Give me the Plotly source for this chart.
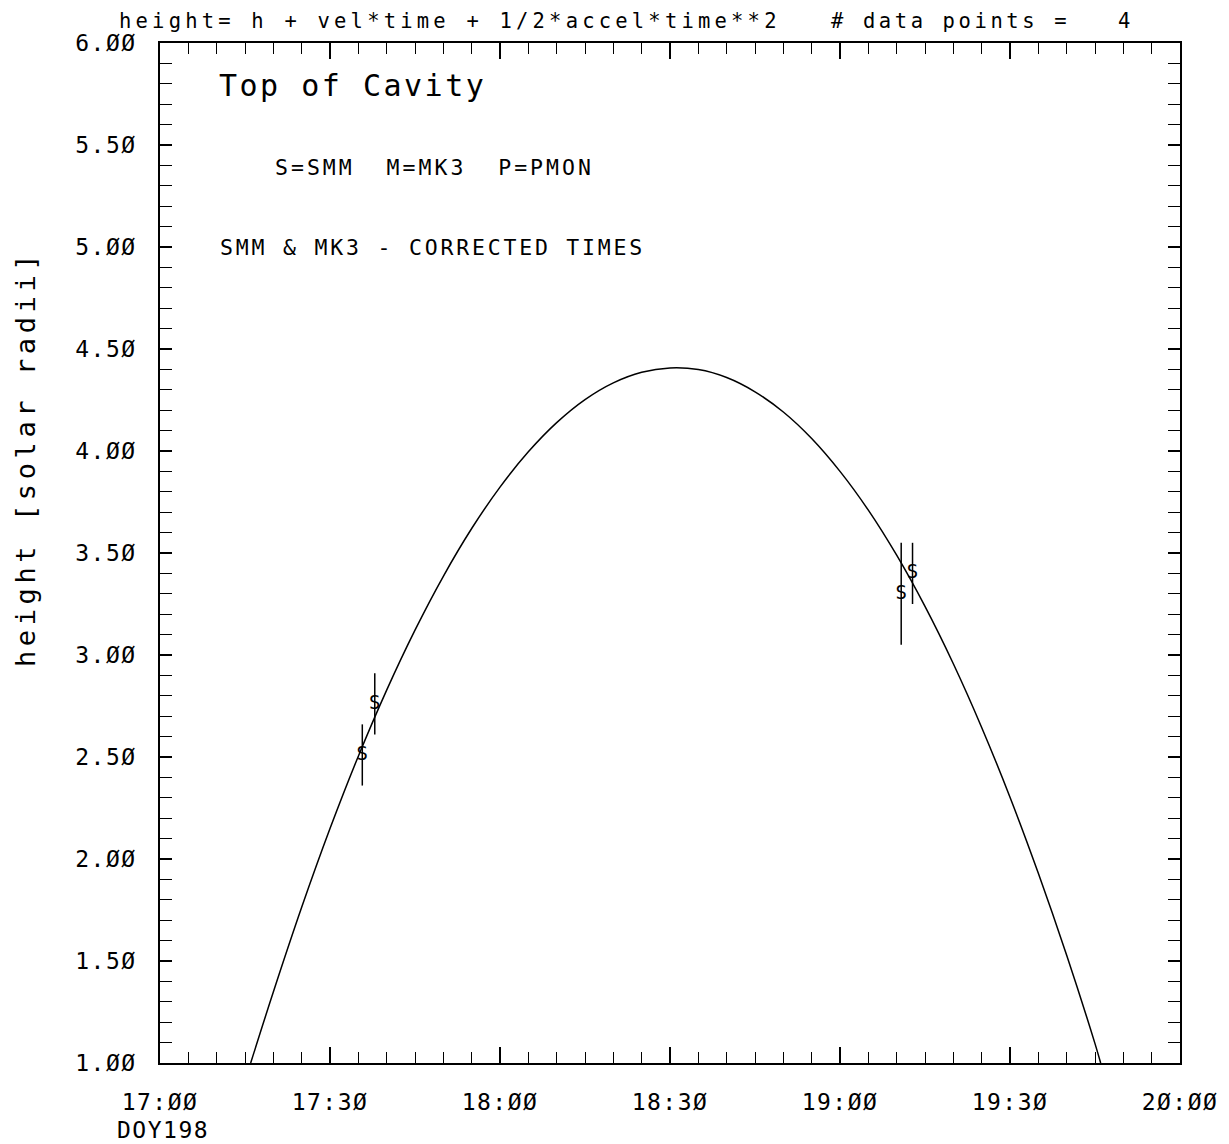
import plotly.graph_objects as go

# ---------------- data ----------------
obs_times = ["17:35:42", "17:37:54", "19:10:48", "19:12:48"]
obs_heights = [2.51, 2.76, 3.30, 3.40]
obs_errors = [0.15, 0.15, 0.25, 0.15]
obs_labels = ["S", "S", "S", "S"]

fit_times = ["17:16", "17:20", "17:25", "17:30", "17:35", "17:40", "17:45",
             "17:50", "17:55", "18:00", "18:05", "18:10", "18:15", "18:20",
             "18:25", "18:30", "18:35", "18:40", "18:45", "18:50", "18:55",
             "19:00", "19:05", "19:10", "19:15", "19:20", "19:25", "19:30",
             "19:35", "19:40", "19:45", "19:46"]
fit_heights = [1.00, 1.348, 1.763, 2.149, 2.504, 2.828, 3.122,
               3.386, 3.620, 3.823, 3.996, 4.139, 4.252, 4.334,
               4.386, 4.407, 4.399, 4.360, 4.290, 4.191, 4.061,
               3.900, 3.710, 3.489, 3.238, 2.957, 2.645, 2.303,
               1.930, 1.528, 1.095, 1.00]

x_tick_times = ["17:00", "17:30", "18:00", "18:30", "19:00", "19:30", "20:00"]
x_tick_text = ["17:ØØ", "17:3Ø", "18:ØØ", "18:3Ø", "19:ØØ", "19:3Ø", "2Ø:ØØ"]
y_tick_vals = [1.0, 1.5, 2.0, 2.5, 3.0, 3.5, 4.0, 4.5, 5.0, 5.5, 6.0]
y_tick_text = ["1.ØØ", "1.5Ø", "2.ØØ", "2.5Ø", "3.ØØ", "3.5Ø",
               "4.ØØ", "4.5Ø", "5.ØØ", "5.5Ø", "6.ØØ"]

title_left = "height= h + vel*time + 1/2*accel*time**2"
title_right = "# data points =   4"
label_top = "Top of Cavity"
label_key = "S=SMM  M=MK3  P=PMON"
label_note = "SMM &amp; MK3 - CORRECTED TIMES"
day_label = "DOY198"
y_title = "height [solar radii]"


def to_min(s):
    p = s.split(":")
    h, m = int(p[0]), int(p[1])
    sec = int(p[2]) if len(p) > 2 else 0
    return (h - 17) * 60 + m + sec / 60.0


def sp(text, ls):
    text = text.replace("  ", "\u00a0\u00a0")
    return f'<span style="letter-spacing:{ls}px">{text}</span>'


FONT = "DejaVu Sans Mono"
# page is drawn with an 8px body margin; place the plot frame at 160..1180 x 43..1063
OFF = 8
L, T, PW, PH = 160 - OFF, 43 - OFF, 1020, 1020
W, H = 1229 - OFF, 1144 - OFF


def px(xp):
    return (xp - 160) / PW


def py(yp):
    return (1063 - yp) / PH


fig = go.Figure()

fig.add_trace(go.Scatter(
    x=[to_min(t) for t in fit_times], y=fit_heights,
    mode="lines", line=dict(color="black", width=1.5, shape="spline"),
    hoverinfo="skip", showlegend=False))

fig.add_trace(go.Scatter(
    x=[to_min(t) for t in obs_times], y=obs_heights,
    mode="text", text=obs_labels, textposition="middle center",
    textfont=dict(family=FONT, size=19, color="black"),
    error_y=dict(type="data", array=obs_errors, visible=True,
                 color="black", thickness=1.5, width=0),
    showlegend=False))

axis_common = dict(showline=True, linecolor="black", linewidth=1.5,
                   mirror="ticks", ticks="inside", tickcolor="black",
                   showgrid=False, zeroline=False,
                   tickfont=dict(family=FONT, size=23, color="black"))

fig.update_xaxes(range=[0, 180], tickmode="array",
                 tickvals=[to_min(t) for t in x_tick_times],
                 ticktext=[sp(t, 1.5) for t in x_tick_text],
                 ticklen=16, tickwidth=1.5, ticklabelstandoff=18,
                 minor=dict(tick0=0, dtick=5, ticks="inside", ticklen=11,
                            tickwidth=1.2, tickcolor="black", showgrid=False),
                 **axis_common)
fig.update_yaxes(range=[1, 6], tickmode="array", tickvals=y_tick_vals,
                 ticktext=[sp(t, 1.5) for t in y_tick_text],
                 ticklen=12, tickwidth=1.5, ticklabelstandoff=17,
                 minor=dict(tick0=1, dtick=0.1, ticks="inside", ticklen=12,
                            tickwidth=1.2, tickcolor="black", showgrid=False),
                 **axis_common)

ann = []
ann.append(dict(text=sp(title_left, 4.2), xref="paper", yref="paper",
                x=px(117), y=py(21),
                xanchor="left", yanchor="middle", showarrow=False,
                font=dict(family=FONT, size=20.5, color="black")))
ann.append(dict(text=sp(title_right, 3.6), xref="paper", yref="paper",
                x=px(829), y=py(21),
                xanchor="left", yanchor="middle", showarrow=False,
                font=dict(family=FONT, size=20.5, color="black")))
ann.append(dict(text=sp(label_top, 2.5), xref="x", yref="y",
                x=10.0, y=5.79, xanchor="left", yanchor="middle",
                showarrow=False, font=dict(family=FONT, size=30, color="black")))
ann.append(dict(text=sp(label_key, 3.0), xref="x", yref="y",
                x=20.0, y=5.39, xanchor="left", yanchor="middle",
                showarrow=False, font=dict(family=FONT, size=21.5, color="black")))
ann.append(dict(text=sp(label_note, 2.8), xref="x", yref="y",
                x=10.2, y=5.0, xanchor="left", yanchor="middle",
                showarrow=False, font=dict(family=FONT, size=21.5, color="black")))
ann.append(dict(text=sp(day_label, 1.5), xref="paper", yref="paper",
                x=px(115), y=py(1130),
                xanchor="left", yanchor="middle", showarrow=False,
                font=dict(family=FONT, size=23, color="black")))
ann.append(dict(text=sp(y_title, 4.6), xref="paper", yref="paper",
                x=px(25), y=py(459), textangle=-90,
                xanchor="center", yanchor="middle", showarrow=False,
                font=dict(family=FONT, size=27, color="black")))

fig.update_layout(width=W, height=H, autosize=False,
                  margin=dict(l=L, r=W - L - PW, t=T, b=H - T - PH, pad=0),
                  paper_bgcolor="white", plot_bgcolor="white",
                  annotations=ann, showlegend=False)

fig.write_html("out.html")
